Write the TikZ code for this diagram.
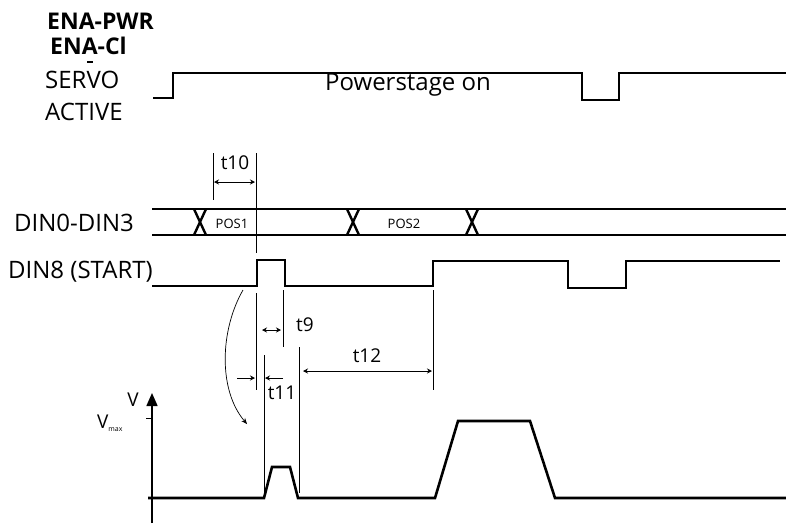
\documentclass[tikz,border=0pt]{standalone}
\usepackage{fontspec}
\setmainfont{Open Sans}
\usetikzlibrary{arrows.meta, positioning}

\begin{document}
\begin{tikzpicture}[x=1pt, y=-1pt,
  sig/.style={line width=2.6pt, line join=miter},
  busline/.style={line width=1.8pt},
  markline/.style={line width=0.7pt},
  dim/.style={line width=1pt, {Stealth[length=5pt,width=5pt]}-{Stealth[length=5pt,width=5pt]}},
  halfdim/.style={line width=0.8pt, -{Stealth[length=5pt,width=5pt]}},
  lbl/.style={font=\fontsize{24}{26}\selectfont, inner sep=0pt, anchor=west},
  boldlbl/.style={font=\bfseries\fontsize{23}{25}\selectfont, inner sep=0pt, anchor=west},
  tlbl/.style={font=\fontsize{19}{21}\selectfont, inner sep=0pt},
  poslbl/.style={font=\fontsize{13}{14}\selectfont, inner sep=0pt}]

\useasboundingbox (0,0) rectangle (786,523);

% labels on the left
\node[boldlbl] (enapwr) at (47,21) {ENA-PWR};
\node[boldlbl] (enacl) at (50,46) {ENA-Cl};
\node[lbl] (servo) at (45,80) {SERVO};
\node[lbl] (active) at (45,112) {ACTIVE};
\node[lbl] (din03) at (14,223) {DIN0-DIN3};
\node[lbl] (din8) at (8,272) {DIN8 (START)};
\draw[line width=1.2pt] (87,62) -- (93,62);

% servo active
\draw[line width=2.2pt] (153,98) -- (173,98) -- (173,73) -- (582,73) -- (582,100)
  -- (619,100) -- (619,73) -- (786,73);
\node[lbl, anchor=center] (pwr) at (408,85) {Powerstage on};

% DIN0-DIN3 bus
\draw[busline] (152,209) -- (786,209);
\draw[sig] (152,235) -- (786,235);
\foreach \x in {200,353,472}
  \draw[line width=2.4pt] (\x-6,209) -- (\x+6,235) (\x-6,235) -- (\x+6,209);
\node[poslbl] (pos1) at (232,224) {POS1};
\node[poslbl] (pos2) at (404,224) {POS2};

% DIN8 (START)
\draw[sig] (152,286) -- (257,286) -- (257,260) -- (285,260) -- (285,286) -- (433,286)
  -- (433,261) -- (568,261) -- (568,288) -- (626,288) -- (626,261) -- (780,261);

% timing marks
\draw[markline] (213,153) -- (213,200);
\draw[markline] (256,153) -- (256,253);
\draw[markline] (256,293) -- (256,390);
\draw[markline] (283,290) -- (283,347);
\draw[markline] (264,355) -- (264,498);
\draw[markline] (299,347) -- (299,493);
\draw[markline] (433,290) -- (433,390);

\draw[dim] (214,182) -- (255,182);
\node[tlbl] (t10) at (235,163) {t10};
\draw[dim] (262,330) -- (281,330);
\node[tlbl] (t9) at (305,325) {t9};
\draw[dim] (303,371) -- (432,371);
\node[tlbl] (t12) at (367,356) {t12};
\draw[halfdim] (237,378) -- (255,378);
\draw[halfdim] (283,378) -- (265,378);
\node[tlbl] (t11) at (282,393) {t11};

\draw[line width=0.7pt, -{Stealth[length=6pt,width=5pt]}] (243,290)
  .. controls (220,330) and (218,390) .. (247,424);

% velocity
\draw[line width=1.6pt, -{Triangle[length=13pt,width=11pt]}] (152,523) -- (152,393);
\draw[line width=0.8pt] (146,418) -- (152,418);
\node[tlbl] (vaxis) at (133,400) {V};
\node[tlbl] (vmax) at (110,423) {V\textsubscript{\fontsize{7}{8}\selectfont max}};
\draw[sig] (148,498) -- (264,498) -- (272,467) -- (290,467) -- (298,498) -- (435,498)
  -- (458,421) -- (530,421) -- (555,498) -- (786,498);
\end{tikzpicture}
\end{document}
